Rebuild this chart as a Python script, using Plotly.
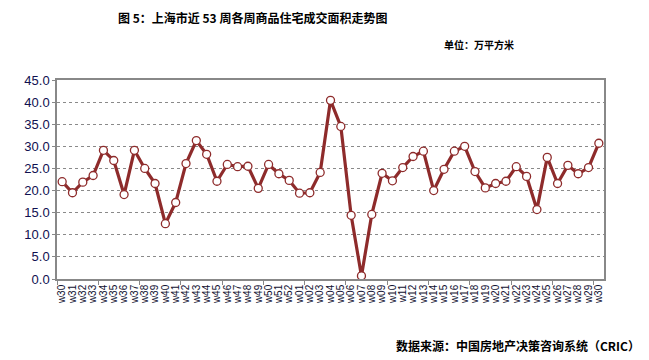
import plotly.graph_objects as go

weeks = ["w30","w31","w32","w33","w34","w35","w36","w37","w38","w39","w40","w41","w42",
         "w43","w44","w45","w46","w47","w48","w49","w50","w51","w52","w01","w02","w03",
         "w04","w05","w06","w07","w08","w09","w10","w11","w12","w13","w14","w15","w16",
         "w17","w18","w19","w20","w21","w22","w23","w24","w25","w26","w27","w28","w29","w30"]
area = [22.0,19.5,21.9,23.4,29.1,26.8,19.1,29.1,25.0,21.6,12.5,17.3,26.1,
        31.3,28.2,22.1,25.9,25.4,25.5,20.5,25.9,23.8,22.3,19.4,19.5,24.1,
        40.4,34.5,14.4,0.7,14.6,23.9,22.2,25.2,27.7,28.9,20.0,24.8,28.9,
        30.0,24.3,20.6,21.6,22.1,25.4,23.2,15.7,27.5,21.6,25.7,23.8,25.2,30.7]
y_ticks = [0, 5, 10, 15, 20, 25, 30, 35, 40, 45]

idx = list(range(len(weeks)))
n = len(weeks)

fig = go.Figure()
fig.add_trace(go.Scatter(
    x=idx, y=area, mode="lines+markers",
    line=dict(color="#8E2B2B", width=3.2),
    marker=dict(symbol="circle", size=8, color="white",
                line=dict(color="#8E2B2B", width=1.3)),
    showlegend=False, hoverinfo="x+y"))
# invisible trace for the tick-mark axis
fig.add_trace(go.Scatter(x=[-0.5, n - 0.5], y=[0, 0], xaxis="x2", mode="markers",
                         marker=dict(opacity=0), showlegend=False, hoverinfo="skip"))

fig.update_layout(
    width=649, height=360,
    margin=dict(l=57, r=45, t=80, b=81),
    paper_bgcolor="white", plot_bgcolor="white",
    font=dict(family="Arial, Liberation Sans, sans-serif"),
    xaxis=dict(
        range=[-0.5, n - 0.5], tickmode="array", tickvals=idx, ticktext=weeks,
        tickangle=-90, tickfont=dict(size=10, color="#101030"),
        showgrid=False, zeroline=False, ticks="",
        showline=True, linecolor="#888888", linewidth=1.5, mirror=True),
    xaxis2=dict(
        range=[-0.5, n - 0.5], overlaying="x", side="bottom", anchor="y",
        tickmode="array", tickvals=[i - 0.5 for i in range(0, n, 4)],
        ticks="outside", ticklen=5, tickcolor="#888888", tickwidth=1.2,
        showticklabels=False, showgrid=False, zeroline=False, showline=False),
    yaxis=dict(
        range=[0, 45], tickmode="array", tickvals=y_ticks,
        tickformat=".1f", tickfont=dict(size=13, color="#101050"),
        showgrid=True, gridcolor="#8a8a8a", griddash="dot", gridwidth=0.8,
        zeroline=False, ticks="outside", ticklen=3, tickcolor="#888888",
        showline=True, linecolor="#888888", linewidth=1.5, mirror=True),
    annotations=[
        dict(text="<b>图 5：上海市近 53 周各周商品住宅成交面积走势图</b>",
             xref="paper", yref="paper", x=(252 - 57) / 547, y=(360 - 81 - 17) / 199,
             xanchor="center", yanchor="middle", showarrow=False,
             font=dict(size=12, color="black", family="Noto Sans CJK SC")),
        dict(text="<b>单位：万平方米</b>",
             xref="paper", yref="paper", x=(516 - 57) / 547, y=(360 - 81 - 44) / 199,
             xanchor="right", yanchor="middle", showarrow=False,
             font=dict(size=10, color="black", family="Noto Sans CJK SC")),
        dict(text="<b>数据来源：中国房地产决策咨询系统（CRIC）</b>",
             xref="paper", yref="paper", x=(642 - 57) / 547, y=(360 - 81 - 345) / 199,
             xanchor="right", yanchor="middle", showarrow=False,
             font=dict(size=12, color="black", family="Noto Sans CJK SC")),
    ],
)

fig.write_html("out.html", config={"displayModeBar": False},
               post_script="document.body.style.margin='0';")
